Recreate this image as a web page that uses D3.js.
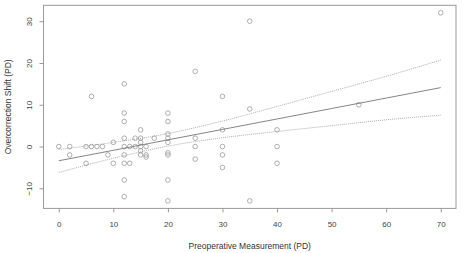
<!DOCTYPE html>
<html>
<head>
<meta charset="utf-8">
<script src="https://cdn.jsdelivr.net/npm/d3@7"></script>
<style>
  body { margin: 0; background: #fff; }
  svg { display: block; font-family: "Liberation Sans", Arial, sans-serif; }
</style>
</head>
<body>
<div id="chart"></div>
<script>
// scatter points: preoperative measurement vs overcorrection shift
const preop = [0, 2, 2, 5, 6, 7, 8, 5, 6, 9, 10, 10,
  12, 12, 12, 12, 12, 12, 12, 12, 12, 13, 13, 14, 14,
  15, 15, 15, 15, 15, 15, 16, 16, 16, 17.5,
  20, 20, 20, 20, 20, 20, 20, 20, 20,
  25, 25, 25, 25, 30, 30, 30, 30, 30, 35, 35, 35, 40, 40, 40, 55, 70];
const shift = [0, 0, -2, 0, 0, 0, 0, -4, 12, -2, 1, -4,
  15, 8, 6, 2, 0, -2, -4, -8, -12, 0, -4, 0, 2,
  4, 2, 1, 0, -1, -2, 0, -2, -2.5, 2,
  8, 6, 3, 2, 1, -1.5, -2, -8, -13,
  18, 2, 0, -3, 12, 4, 0, -2, -5, 30, 9, -13, 4, 0, -4, 10, 32];

// regression line and confidence band
const fitX = [0, 10, 20, 30, 40, 50, 60, 70];
const fitY = [-3.4, -0.9, 1.6, 4.1, 6.6, 9.1, 11.6, 14.1];
const upperY = [-0.7, 1.0, 3.1, 6.1, 9.6, 13.2, 16.8, 20.7];
const lowerY = [-6.2, -2.8, 0.1, 2.1, 3.6, 5.0, 6.4, 7.5];

const xTicks = [0, 10, 20, 30, 40, 50, 60, 70];
const yTicks = [-10, 0, 10, 20, 30];

const W = 463, H = 253;
const plotLeft = 43.5, plotRight = 456, plotTop = 5.3, plotBottom = 208.4;

const svg = d3.select('#chart').append('svg')
  .attr('width', W).attr('height', H);

const x = d3.scaleLinear().domain([-2.8, 72.8]).range([plotLeft, plotRight]);
const y = d3.scaleLinear().domain([-14.8, 33.8]).range([plotBottom, plotTop]);

// box
svg.append('rect')
  .attr('x', plotLeft).attr('y', plotTop)
  .attr('width', plotRight - plotLeft).attr('height', plotBottom - plotTop)
  .attr('fill', 'none').attr('stroke', '#999').attr('stroke-width', 1);

const xAxis = svg.append('g')
  .attr('transform', `translate(0,${plotBottom})`)
  .call(d3.axisBottom(x).tickValues(xTicks).tickSize(4).tickPadding(9).tickFormat(d3.format('d')));
xAxis.select('.domain').remove();

const yAxis = svg.append('g')
  .attr('transform', `translate(${plotLeft},0)`)
  .call(d3.axisLeft(y).tickValues(yTicks).tickSize(4).tickFormat(d3.format('d')));
yAxis.select('.domain').remove();
yAxis.selectAll('.tick text')
  .attr('transform', 'rotate(-90)')
  .attr('x', 0).attr('dx', 0)
  .attr('y', -11.8)
  .attr('dy', 0)
  .attr('text-anchor', 'middle');

svg.selectAll('.tick line').attr('stroke', '#999');
svg.selectAll('.tick text')
  .attr('font-family', '"Liberation Sans", Arial, sans-serif')
  .attr('font-size', '8px').attr('fill', '#444');

// axis titles
svg.append('text')
  .attr('x', (plotLeft + plotRight) / 2).attr('y', 249)
  .attr('text-anchor', 'middle')
  .attr('font-size', '8.5px').attr('fill', '#333')
  .text('Preoperative Measurement (PD)');

svg.append('text')
  .attr('transform', `translate(10.5,${(plotTop + plotBottom) / 2}) rotate(-90)`)
  .attr('text-anchor', 'middle')
  .attr('font-size', '8.5px').attr('fill', '#333')
  .text('Overcorrection Shift (PD)');

// points
svg.append('g').selectAll('circle')
  .data(preop.map((d, i) => [d, shift[i]]))
  .join('circle')
  .attr('cx', d => x(d[0])).attr('cy', d => y(d[1]))
  .attr('r', 2.3)
  .attr('fill', 'none').attr('stroke', '#999').attr('stroke-width', 0.8);

// regression line + band
const line = d3.line()
  .x((d, i) => x(fitX[i]))
  .y(d => y(d))
  .curve(d3.curveMonotoneX);

svg.append('path').attr('d', line(fitY))
  .attr('fill', 'none').attr('stroke', '#777').attr('stroke-width', 0.9);
[upperY, lowerY].forEach(band => {
  svg.append('path').attr('d', line(band))
    .attr('fill', 'none').attr('stroke', '#999').attr('stroke-width', 0.8)
    .attr('stroke-dasharray', '1,1');
});
</script>
</body>
</html>
